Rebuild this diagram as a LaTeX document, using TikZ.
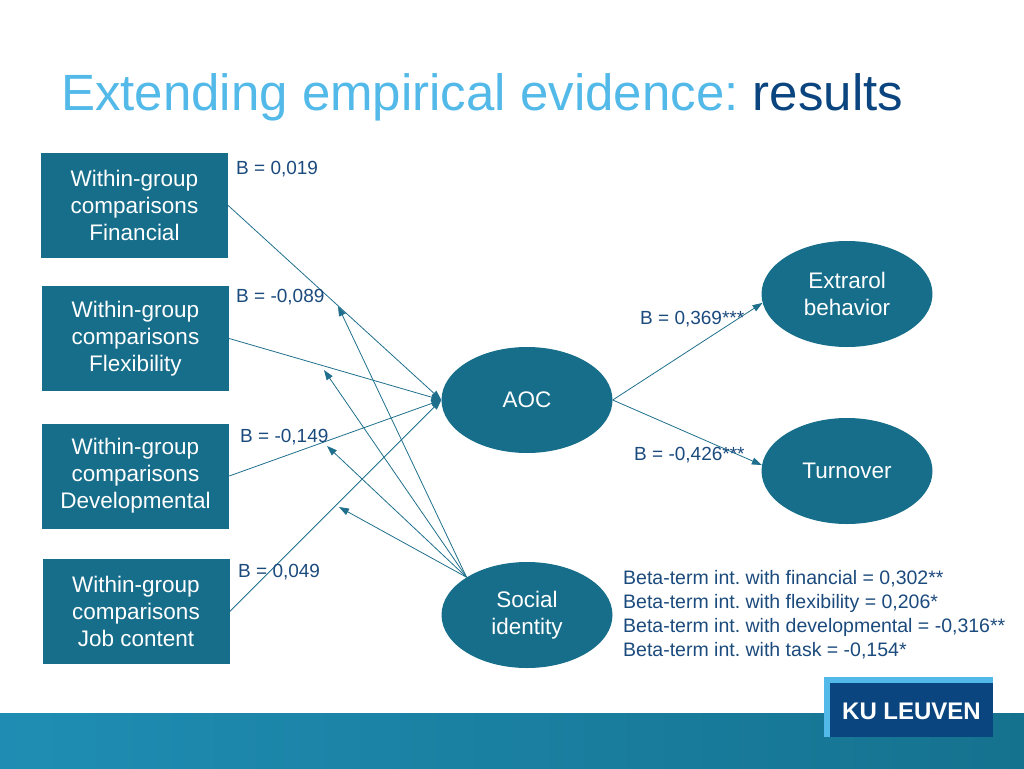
\documentclass[tikz,border=0pt]{standalone}
\usepackage{fontspec}
\setmainfont{Liberation Sans}
\usepackage{xcolor}
\usetikzlibrary{arrows.meta,shapes.geometric}
\frenchspacing

\definecolor{kuteal}{HTML}{176E8B}
\definecolor{kuline}{HTML}{1F6F8C}
\definecolor{kunavy}{HTML}{1B4A7D}
\definecolor{kulight}{HTML}{52B9E8}
\definecolor{kudark}{HTML}{0B4580}
\definecolor{bandleft}{HTML}{1F8DB3}
\definecolor{bandright}{HTML}{15728F}

\begin{document}
\begin{tikzpicture}[
  x=1pt, y=-1pt,
  every node/.style={inner sep=0pt},
  box/.style={rectangle, fill=kuteal, text=white, minimum width=187pt,
    minimum height=105pt, align=center, font=\fontsize{22.5}{27}\selectfont},
  oval/.style={ellipse, fill=kuteal, text=white, minimum width=171pt,
    minimum height=106pt, align=center, font=\fontsize{22.5}{27}\selectfont},
  coef/.style={anchor=west, text=kunavy, font=\fontsize{19}{23}\selectfont},
  link/.style={draw=kuline, line width=0.8pt, -{Triangle[length=10pt,width=7pt]}}
]
  \useasboundingbox (0,0) rectangle (1024,768);

  % band and logo
  \shade[left color=bandleft, right color=bandright] (0,713) rectangle (1024,768);
  \fill[kulight] (824,677) rectangle (993,737);
  \fill[kudark] (830,683) rectangle (993,737);
  \node[text=white, font=\fontsize{24}{24}\selectfont\bfseries] (logo) at (911.5,711) {KU LEUVEN};

  % title
  \node[anchor=base west, font=\fontsize{51}{56}\selectfont] (title) at (61,110)
    {\textcolor{kulight}{Extending empirical evidence:} \textcolor{kudark}{results}};

  % predictors
  \node[box] (fin)  at (134.5,205.5) {Within-group\\comparisons\\Financial};
  \node[box] (flex) at (135.5,338.5) {Within-group\\comparisons\\Flexibility};
  \node[box] (dev)  at (135.5,476)   {Within-group\\comparisons\\Developmental};
  \node[box] (job)  at (136,611.5)   {Within-group\\comparisons\\Job content};

  % mediator, outcomes, moderator
  \node[oval] (aoc)    at (527,400) {AOC};
  \node[oval] (extra)  at (847,294) {Extrarol\\behavior};
  \node[oval] (turn)   at (847,471) {Turnover};
  \node[oval] (social) at (527,615) {Social\\identity};

  % paths
  \draw[link] (fin.east)  -- (aoc.west);
  \draw[link] (flex.east) -- (aoc.west);
  \draw[link] (dev.east)  -- (aoc.west);
  \draw[link] (job.east)  -- (aoc.west);
  \draw[link] (aoc.east)  -- (extra.186);
  \draw[link] (aoc.east)  -- (turn.176);

  % moderation
  \coordinate (m1) at (338,306);
  \coordinate (m2) at (324,370);
  \coordinate (m3) at (327,446);
  \coordinate (m4) at (339,507);
  \foreach \m in {m1,m2,m3,m4}
    \draw[link] (social.148) -- (\m);

  % coefficients
  \node[coef] (b1) at (236,169) {B = 0,019};
  \node[coef] (b2) at (236,297) {B = -0,089};
  \node[coef] (b3) at (240,437) {B = -0,149};
  \node[coef] (b4) at (238,572) {B = 0,049};
  \node[coef] (b5) at (640,319) {B = 0,369***};
  \node[coef] (b6) at (634,455) {B = -0,426***};

  \node[anchor=west, align=left, text=kunavy, font=\fontsize{19.5}{24}\selectfont] (beta) at (623,615)
    {Beta-term int. with financial = 0,302**\\
     Beta-term int. with flexibility = 0,206*\\
     Beta-term int. with developmental = -0,316**\\
     Beta-term int. with task = -0,154*};
\end{tikzpicture}
\end{document}
